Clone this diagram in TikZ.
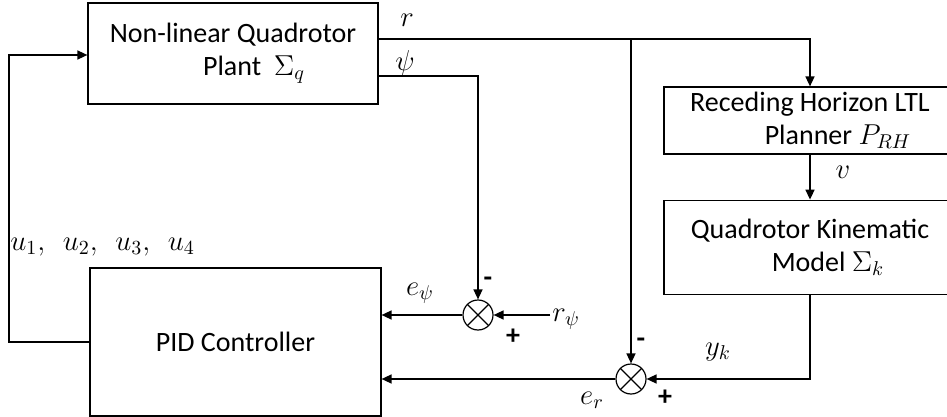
\documentclass[tikz,border=0pt]{standalone}
\usepackage{amsmath}
\usepackage{fontspec}
\setmainfont{Carlito}
\usetikzlibrary{positioning,arrows.meta}

\begin{document}
\begin{tikzpicture}[
  x=0.5pt, y=-0.5pt,
  font=\fontsize{14}{16.5}\selectfont,
  box/.style={
    draw,
    line width=0.6pt,
    align=center,
    inner sep=0pt
  },
  sum/.style={
    draw,
    circle,
    line width=0.6pt,
    minimum size=15pt,
    inner sep=0pt,
    path picture={
      \draw[line width=0.6pt] (path picture bounding box.north west) -- (path picture bounding box.south east)
        (path picture bounding box.north east) -- (path picture bounding box.south west);
    }
  },
  lbl/.style={inner sep=1pt},
  wire/.style={line width=0.75pt},
  flow/.style={-{Triangle[length=5pt,width=4.5pt]}, line width=0.75pt}
]
\clip (0,0) rectangle (947,417);
\node[box, minimum width=145pt, minimum height=50.5pt] (plant) at (233,53.5) {Non-linear Quadrotor\\\hspace*{21pt}Plant ~$\Sigma_q$};
\node[box, minimum width=146pt, minimum height=33.5pt] (planner) at (810,120.5) {Receding Horizon LTL\\\hspace*{28pt}Planner $P_{RH}$};
\node[box, minimum width=146pt, minimum height=47pt, below=22.5pt of planner] (kin) {Quadrotor Kinematic\\\hspace*{18pt}Model $\Sigma_k$};
\node[box, minimum width=145.5pt, minimum height=74pt] (pid) at (235.5,342) {PID Controller};
\node[sum] (sumpsi) at (478,315) {};
\node[sum] (sumr) at (631,379) {};

\coordinate (rsplit) at (631,39);
\coordinate (psiturn) at (478,76);
\coordinate (fb) at (9,55);

\node[lbl] (rlbl) at (407,20) {$r$};
\node[lbl] (psilbl) at (405,63) {$\psi$};
\node[lbl] (vlbl) at (843,172) {$v$};
\node[lbl, anchor=base west] (ulbl) at (8,250) {$u_1,\;\, u_2,\;\, u_3,\;\, u_4$};
\node[lbl] (epsilbl) at (420,293) {$e_\psi$};
\node[lbl, anchor=base west] (rpsi) at (550,321) {$r_\psi$};
\node[lbl] (minpsi) at (488,282) {\textbf{-}};
\node[lbl] (pluspsi) at (513,337) {\textbf{+}};
\node[lbl] (yklbl) at (718,352) {$y_k$};
\node[lbl] (minr) at (641,343) {\textbf{-}};
\node[lbl] (plusr) at (665,398) {\textbf{+}};
\node[lbl] (erlbl) at (592,400) {$e_r$};

\draw[wire] (plant.east |- rsplit) -- (rsplit);
\draw[flow] (rsplit) -| (planner.north);
\draw[flow] (rsplit) -- (sumr.north);
\draw[flow] (plant.east |- psiturn) -| (sumpsi.north);
\draw[flow] (sumpsi.west) -- (pid.east |- sumpsi);
\draw[flow] (rpsi.west |- sumpsi) -- (sumpsi.east);
\draw[flow] (planner.south) -- (kin.north);
\draw[flow] (kin.south) |- (sumr.east);
\draw[flow] (sumr.west) -- (pid.east |- sumr);
\draw[flow] (pid.west) -| (fb) -- (plant.west |- fb);
\end{tikzpicture}
\end{document}
